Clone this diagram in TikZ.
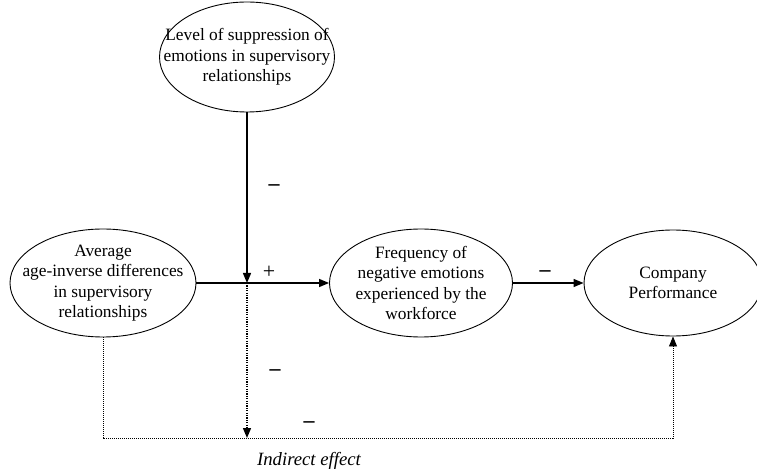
\documentclass[tikz,border=0pt]{standalone}
\usepackage{fontspec}
\setmainfont{Liberation Serif}
\usetikzlibrary{shapes.geometric,arrows.meta}
\begin{document}
\begin{tikzpicture}[x=1bp,y=-1bp,
  oval/.style={ellipse,draw,line width=0.9bp,inner sep=-30bp,align=center,
    font=\fontsize{17.4}{20.5}\selectfont},
  tip/.style={-{Triangle[length=10bp,width=8bp]}},
  solidarrow/.style={line width=1.4bp,tip},
  dotarrow/.style={line width=1.4bp,dash pattern=on 1.2bp off 1.2bp,tip},
  thindotarrow/.style={line width=0.9bp,dash pattern=on 1bp off 1bp,tip},
  sign/.style={inner sep=0pt,font=\fontsize{22}{22}\selectfont\bfseries},
  plus/.style={inner sep=0pt,font=\fontsize{22}{22}\selectfont}]
\useasboundingbox (0,0) rectangle (757,473);

\node[oval,minimum width=175bp,minimum height=110bp] (top) at (247,57)
  {Level of suppression of\\emotions in supervisory\\relationships};
\node[oval,minimum width=186bp,minimum height=108bp] (left) at (103,283)
  {Average\\age-inverse differences\\in supervisory\\relationships};
\node[oval,minimum width=183bp,minimum height=108bp] (mid) at (421,283)
  {Frequency of\\negative emotions\\experienced by the\\workforce};
\node[oval,minimum width=178bp,minimum height=106bp] (right) at (673,283)
  {Company\\Performance};

\coordinate (J) at (247,283);
\coordinate (D) at (247,438);

\draw[solidarrow] (top.south) -- (J);
\draw[solidarrow] (left.east) -- (mid.west);
\draw[solidarrow] (mid.east) -- (right.west);
\draw[dotarrow] (J) -- (D);
\draw[thindotarrow] (left.south) -- (left.south |- D) -- (right.south |- D) -- (right.south);

\node[sign] (m1) at (274,188) {–};
\node[plus] (p1) at (269,272) {+};
\node[sign] (m2) at (545,274) {–};
\node[sign] (m3) at (275,373) {–};
\node[sign] (m4) at (309,425) {–};
\node[inner sep=0pt,font=\fontsize{18.8}{20}\selectfont\itshape] (ind) at (309,461) {Indirect effect};
\end{tikzpicture}
\end{document}
